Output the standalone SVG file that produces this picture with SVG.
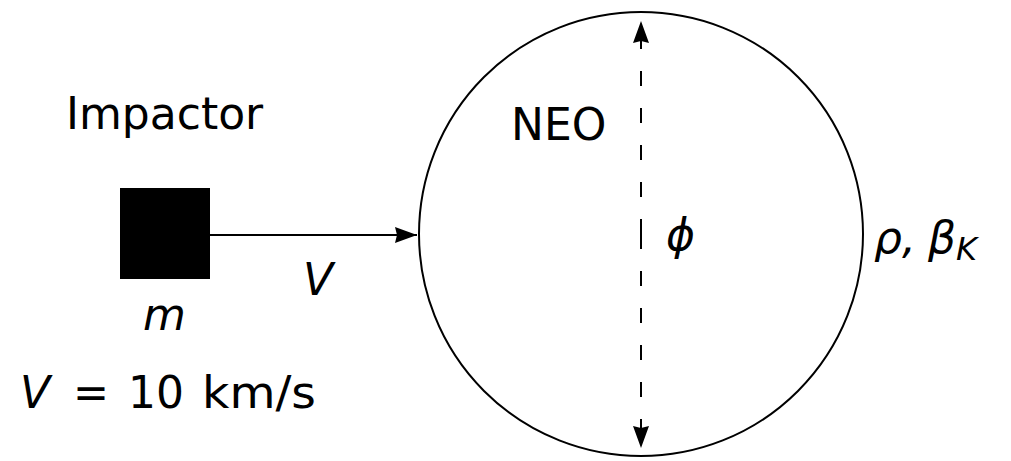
<svg xmlns="http://www.w3.org/2000/svg" width="1011" height="461" viewBox="0 0 1011 461">
<style>
text{font-family:"DejaVu Sans","Liberation Sans",sans-serif;fill:#000;font-size:44px}
.i{font-style:italic}
.ln{stroke:#000;stroke-width:2;fill:none}
</style>
<defs>
<marker id="ah" viewBox="0 0 22 16" refX="22" refY="8" markerWidth="22" markerHeight="16" markerUnits="userSpaceOnUse" orient="auto">
<path d="M0,0 L22,8 L0,16 L2,8 z" fill="#000"/>
</marker>
</defs>
<rect width="1011" height="461" fill="#fff"/>
<g id="neo">
<circle cx="641" cy="234" r="222" class="ln"/>
<text x="511" y="140">NEO</text>
<text x="666" y="250" class="i">ϕ</text>
<text x="874" y="253" class="i">ρ, <tspan x="928">β</tspan><tspan font-size="32" dy="7">K</tspan></text>
</g>
<g id="impactor">
<rect x="120" y="188" width="90" height="91" fill="#000"/>
<text x="66" y="129">Impactor</text>
<text x="143" y="330" class="i">m</text>
<text y="408"><tspan x="20" class="i">V</tspan><tspan x="73" textLength="36" lengthAdjust="spacingAndGlyphs">=</tspan><tspan x="128">10</tspan><tspan x="202" textLength="114" lengthAdjust="spacingAndGlyphs">km/s</tspan></text>
</g>
<g id="connectors">
<line x1="210" y1="235" x2="417" y2="235" class="ln" marker-end="url(#ah)"/>
<text x="303" y="295" class="i">V</text>
<line x1="641" y1="234" x2="641" y2="21" class="ln" stroke-dasharray="15,22" marker-end="url(#ah)"/>
<line x1="641" y1="234" x2="641" y2="448" class="ln" stroke-dasharray="15,22" marker-end="url(#ah)"/>
</g>
</svg>
